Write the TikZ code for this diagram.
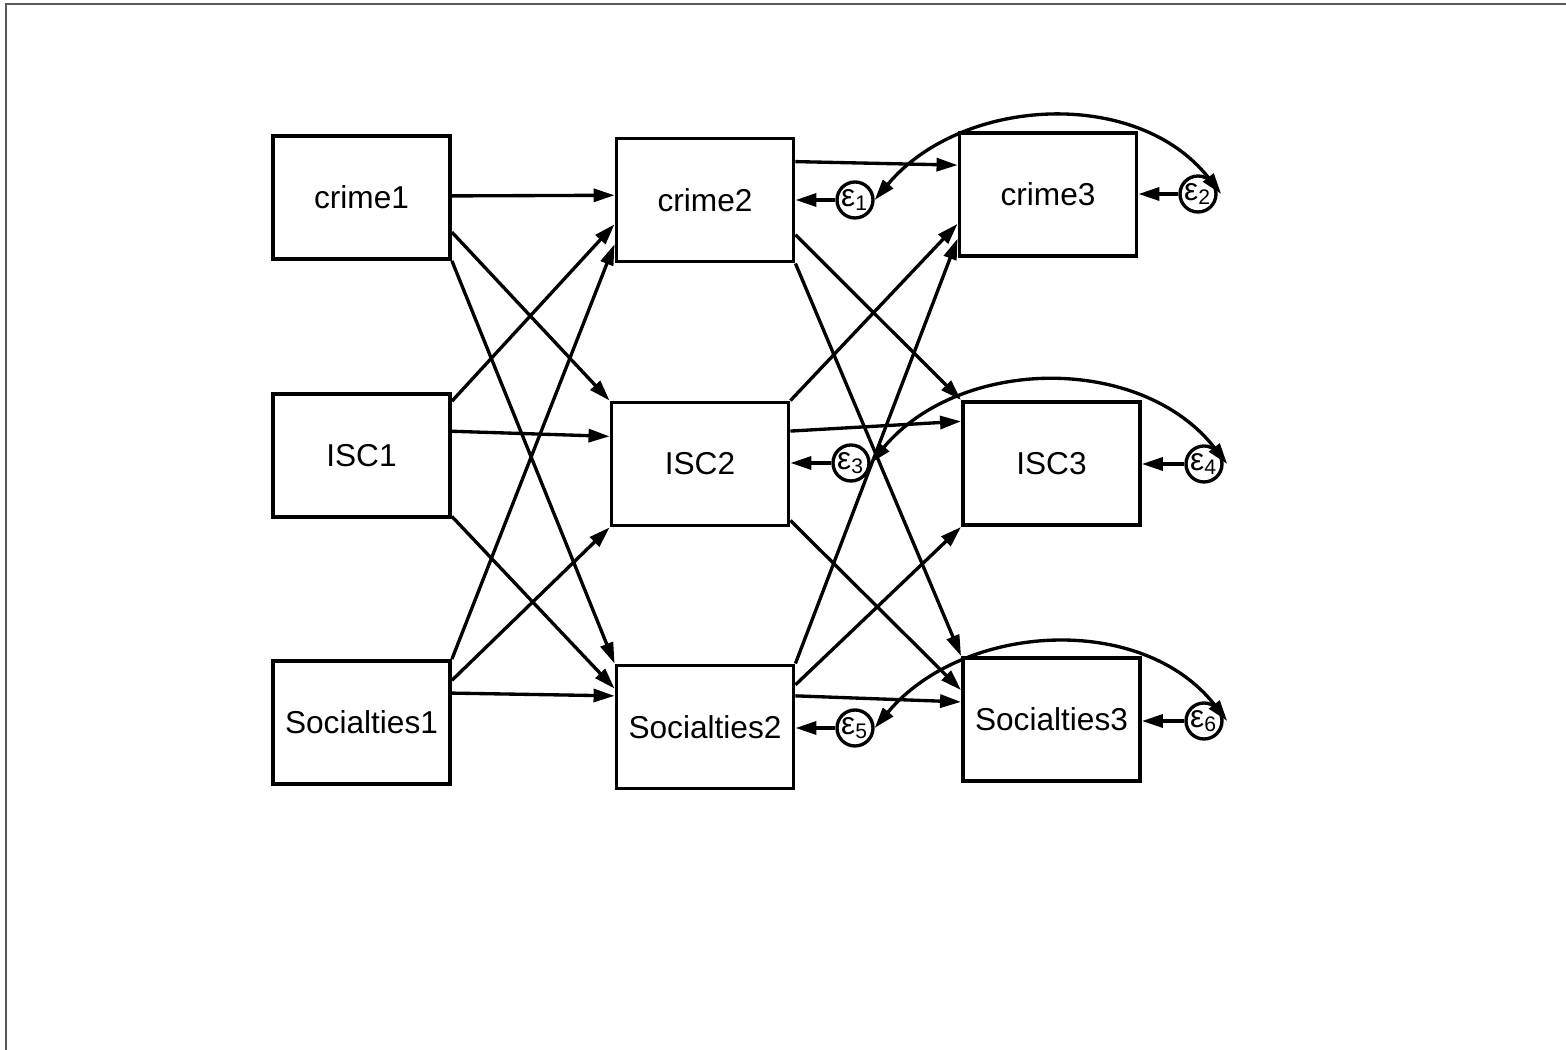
\documentclass[tikz,border=0pt]{standalone}
\usepackage{fontspec}
\setmainfont{Liberation Sans}
\usetikzlibrary{arrows.meta}

\begin{document}
\begin{tikzpicture}[
  var/.style={draw, line width=1.1pt, minimum width=1.77cm, minimum height=1.23cm, inner sep=0pt, font=\fontsize{9}{10}\selectfont},
  err/.style={draw, circle, line width=0.95pt, minimum size=0.36cm, inner sep=0pt, font=\fontsize{9}{9}\selectfont},
  effect/.style={line width=0.95pt, -{Triangle[length=0.21cm,width=0.13cm]}},
  cov/.style={line width=0.95pt, {Triangle[length=0.21cm,width=0.13cm]}-{Triangle[length=0.21cm,width=0.13cm]}}
]
\useasboundingbox (0,0) rectangle (15.66,10.5);
\draw[black!65, line width=0.6pt] (0.06,0) -- (0.06,10.46) -- (15.66,10.46);

% observed variables, three waves
\node[var] (c1) at (3.615,8.525) {crime1};
\node[var] (i1) at (3.615,5.945) {ISC1};
\node[var] (s1) at (3.615,3.275) {Socialties1};
\node[var] (c2) at (7.05,8.50) {crime2};
\node[var] (i2) at (7.00,5.86) {ISC2};
\node[var] (s2) at (7.05,3.23) {Socialties2};
\node[var] (c3) at (10.48,8.555) {crime3};
\node[var] (i3) at (10.515,5.865) {ISC3};
\node[var] (s3) at (10.515,3.305) {Socialties3};

% error terms
\foreach \n/\v/\x/\y in {1/c2/8.55/8.50, 2/c3/11.98/8.56, 3/i2/8.51/5.87, 4/i3/12.04/5.86, 5/s2/8.55/3.22, 6/s3/12.04/3.29} {
  \node[err] (e\n) at (\x,\y) {ε\textsubscript{\n}};
  \draw[effect] (e\n) -- (e\n -| \v.east);
}

% cross-lagged paths
\foreach \s/\t in {c1.1.6/c2.177, c1.-21/i2.north west, c1.south east/s2.north west,
                   i1.31.5/c2.195.5, i1.15.7/i2.163.5, i1.-34.6/s2.157.7,
                   s1.north east/c2.206.6, s1.25.2/i2.south west, s1.18.6/s2.161.6,
                   c2.23/c3.162, c2.-21/i3.north west, c2.south east/s3.north west,
                   i2.north east/c3.198.6, i2.20.5/i3.155.4, i2.-32.5/s3.162.5,
                   s2.north east/c3.206.8, s2.25/i3.south west, s2.19.6/s3.169.6} {
  \draw[effect] (\s) -- (\t);
}

% error covariances
\draw[cov] (e1.east) to[out=50,in=128] ([xshift=1pt]e2.east);
\draw[cov] (e3.east) to[out=50,in=128] ([xshift=1pt]e4.east);
\draw[cov] (e5.east) to[out=50,in=128] ([xshift=1pt]e6.east);
\end{tikzpicture}
\end{document}
